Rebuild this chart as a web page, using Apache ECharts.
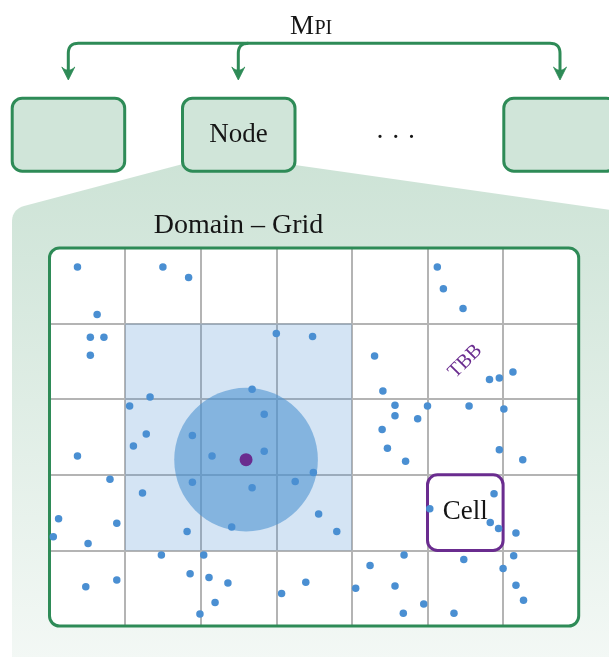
<!DOCTYPE html>
<html><head><meta charset="utf-8">
<script src="https://cdn.jsdelivr.net/npm/echarts@6/dist/echarts.min.js"></script>
<style>html,body{margin:0;padding:0;background:#fff}#c{width:609px;height:657px}</style>
</head><body><div id="c"></div>
<script>
// ---- data (cell units: x = column, y = row from top) ----
const gridColumns = 7;
const gridRows = 5;
const particlesX = [0.37,1.50,1.84,0.63,0.54,0.72,0.54,3.00,3.48,2.68,
  1.33,1.06,2.84,1.28,1.89,5.13,5.21,5.47,4.30,4.41,
  5.82,5.95,6.13,4.57,5.00,5.55,6.01,4.57,4.87,4.40,
  1.11,0.37,2.15,2.84,0.80,1.89,2.68,3.25,3.49,1.23,
  0.12,0.89,3.56,0.05,0.51,1.82,2.41,1.48,2.04,1.86,
  2.11,2.36,0.48,0.89,2.19,1.99,3.07,3.39,4.47,4.71,
  5.95,6.26,3.80,5.03,5.88,5.83,5.94,6.17,4.69,4.24,
  5.48,6.14,6.00,4.05,4.57,6.17,6.27,4.95,4.68,5.35];
const particlesY = [0.25,0.25,0.39,0.88,1.18,1.18,1.42,1.13,1.17,1.87,
  1.97,2.09,2.20,2.46,2.48,0.25,0.54,0.80,1.43,1.89,
  1.74,1.72,1.64,2.08,2.09,2.09,2.13,2.22,2.26,2.40,
  2.62,2.75,2.75,2.69,3.06,3.10,3.17,3.09,2.97,3.24,
  3.58,3.64,3.52,3.82,3.91,3.75,3.69,4.06,4.06,4.31,
  4.36,4.43,4.48,4.39,4.69,4.84,4.57,4.42,2.65,2.82,
  2.67,2.80,3.75,3.45,3.25,3.63,3.71,3.77,4.06,4.20,
  4.12,4.07,4.24,4.50,4.47,4.46,4.66,4.71,4.83,4.83];
const focusParticle = [2.60, 2.80];
const cutoffRadius = 0.95;
const neighbourBlock = [1, 1, 4, 4];   // x1, y1, x2, y2
const highlightedCell = [5, 3, 6, 4];  // x1, y1, x2, y2
const tbbCell = [5.5, 1.5];
const labelMpiBig = 'M';
const labelMpiSmall = 'PI';
const labelNode = 'Node';
const labelDots = '· · ·';
const labelDomain = 'Domain – Grid';
const labelCell = 'Cell';
const labelTbb = 'TBB';

// ---- styles ----
const GREEN = '#2e8b57';
const GREEN_FILL = '#d0e5d9';
const PURPLE = '#6a2c8f';
const BLUE = '#4a8fd2';
const SERIF = '"Liberation Serif", "DejaVu Serif", serif';

const chart = echarts.init(document.getElementById('c'));

function quad(p0, c, p1, n) {
  const out = [];
  for (let i = 0; i <= n; i++) {
    const t = i / n, a = (1 - t) * (1 - t), b = 2 * (1 - t) * t, d = t * t;
    out.push([a * p0[0] + b * c[0] + d * p1[0], a * p0[1] + b * c[1] + d * p1[1]]);
  }
  return out;
}
function textStyle(text, size, fill, align) {
  return { text: text, font: size + 'px ' + SERIF, fill: fill || '#151515',
    textAlign: align || 'center', align: align || 'center',
    textVerticalAlign: 'middle', verticalAlign: 'middle' };
}
function txt(x, y, text, size, align) {
  return { type: 'text', x: x, y: y, z: 2, style: textStyle(text, size, null, align) };
}
function box(x) {
  return { type: 'rect', z: 2, shape: { x: x, y: 98.2, width: 112.5, height: 73, r: 10 },
    style: { fill: GREEN_FILL, stroke: GREEN, lineWidth: 3 } };
}
function arrowHead(c) {
  const pts = [[c, 80]].concat(quad([c - 6.5, 67], [c, 73.5], [c + 6.5, 67], 10));
  return { type: 'polygon', z: 2, shape: { points: pts },
    style: { fill: GREEN, stroke: GREEN, lineWidth: 0.8, lineJoin: 'round' } };
}

const regionPts = [[198, 160]].concat(quad([24, 206], [12, 209.5], [12, 222], 10))
  .concat([[12, 660], [612, 660], [612, 210.3], [260, 160]]);
const mainArrow = [[68.3, 74]].concat(quad([68.3, 53.3], [68.3, 43.3], [78.3, 43.3], 10))
  .concat(quad([550, 43.3], [560, 43.3], [560, 53.3], 10)).concat([[560, 74]]);
const midArrow = quad([248.3, 43.3], [238.3, 43.3], [238.3, 53.3], 10).concat([[238.3, 74]]);

const graphics = [
  { type: 'polygon', z: -10, shape: { points: regionPts },
    style: { fill: { type: 'linear', x: 0, y: 0, x2: 0, y2: 1,
      colorStops: [{ offset: 0, color: '#cde3d6' }, { offset: 0.2, color: '#d4e7dc' }, { offset: 1, color: '#f3f8f5' }] } } },
  { type: 'rect', z: -5, shape: { x: 49.5, y: 248, width: 529.2, height: 378, r: 10 },
    style: { fill: '#ffffff' } },
  { type: 'rect', z: 4, shape: { x: 49.5, y: 248, width: 529.2, height: 378, r: 10 },
    style: { fill: 'none', stroke: GREEN, lineWidth: 3 } },
  { type: 'polyline', z: 2, shape: { points: mainArrow },
    style: { fill: 'none', stroke: GREEN, lineWidth: 3, lineJoin: 'round' } },
  { type: 'polyline', z: 2, shape: { points: midArrow },
    style: { fill: 'none', stroke: GREEN, lineWidth: 3, lineJoin: 'round' } },
  arrowHead(68.3), arrowHead(238.3), arrowHead(560),
  box(12.2), box(182.5), box(503.8),
  txt(290, 26.5, labelMpiBig, 27, 'left'),
  txt(314.5, 28.4, labelMpiSmall, 20, 'left'),
  txt(238.5, 135, labelNode, 27),
  txt(395.7, 139, labelDots, 27),
  txt(238.5, 226, labelDomain, 28)
];

const particleData = particlesX.map((x, i) => [x, particlesY[i]]);

chart.setOption({
  animation: false,
  backgroundColor: '#ffffff',
  grid: { left: 49.5, top: 248, width: 529.2, height: 378 },
  xAxis: { type: 'value', min: 0, max: gridColumns, interval: 1,
    axisLine: { show: false }, axisTick: { show: false }, axisLabel: { show: false },
    splitLine: { show: true, showMinLine: false, showMaxLine: false,
      lineStyle: { color: '#b4b4b4', width: 2 } } },
  yAxis: { type: 'value', min: 0, max: gridRows, interval: 1, inverse: true,
    axisLine: { show: false }, axisTick: { show: false }, axisLabel: { show: false },
    splitLine: { show: true, showMinLine: false, showMaxLine: false,
      lineStyle: { color: '#b4b4b4', width: 2 } } },
  graphic: graphics,
  series: [
    { type: 'custom', z: 1, silent: true, data: [neighbourBlock],
      renderItem: function (params, api) {
        const p1 = api.coord([api.value(0), api.value(1)]);
        const p2 = api.coord([api.value(2), api.value(3)]);
        return { type: 'rect', shape: { x: Math.min(p1[0], p2[0]), y: Math.min(p1[1], p2[1]),
          width: Math.abs(p2[0] - p1[0]), height: Math.abs(p2[1] - p1[1]) },
          style: { fill: 'rgba(74,144,209,0.24)' } };
      } },
    { type: 'custom', z: 2, silent: true, data: [[focusParticle[0], focusParticle[1], cutoffRadius]],
      renderItem: function (params, api) {
        const c = api.coord([api.value(0), api.value(1)]);
        const r = api.size([api.value(2), 0])[0];
        return { type: 'circle', shape: { cx: c[0], cy: c[1], r: r },
          style: { fill: 'rgba(74,144,209,0.58)' } };
      } },
    { type: 'custom', z: 3, silent: true, data: [highlightedCell],
      renderItem: function (params, api) {
        const p1 = api.coord([api.value(0), api.value(1)]);
        const p2 = api.coord([api.value(2), api.value(3)]);
        const x = Math.min(p1[0], p2[0]), y = Math.min(p1[1], p2[1]);
        const w = Math.abs(p2[0] - p1[0]), h = Math.abs(p2[1] - p1[1]);
        return { type: 'group', children: [
          { type: 'rect', shape: { x: x, y: y, width: w, height: h, r: 10 },
            style: { fill: '#ffffff', stroke: PURPLE, lineWidth: 3 } },
          { type: 'text', x: x + w / 2, y: y + h / 2 - 1, style: textStyle(labelCell, 27) }
        ] };
      } },
    { type: 'custom', z: 3, silent: true, data: [tbbCell],
      renderItem: function (params, api) {
        const c = api.coord([api.value(0), api.value(1)]);
        return { type: 'text', x: c[0], y: c[1], rotation: Math.PI / 4,
          style: textStyle(labelTbb, 20, PURPLE) };
      } },
    { type: 'scatter', z: 5, silent: true, data: particleData, symbolSize: 7.5,
      itemStyle: { color: BLUE, opacity: 1 } },
    { type: 'scatter', z: 6, silent: true, data: [focusParticle], symbolSize: 13,
      itemStyle: { color: PURPLE, opacity: 1 } }
  ]
});
</script></body></html>
